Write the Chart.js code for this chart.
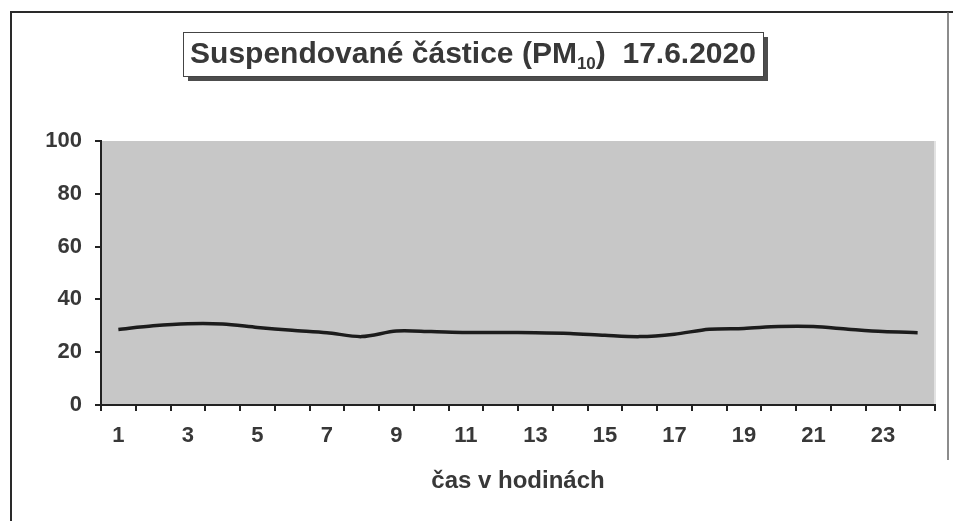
<!DOCTYPE html>
<html>
<head>
  <meta charset="utf-8">
  <title>PM10 17.6.2020</title>
  <script src="https://cdn.jsdelivr.net/npm/chart.js@4.4.1/dist/chart.umd.min.js"></script>
  <style>
    html, body { margin: 0; padding: 0; background: #fff; }
    #wrap { width: 953px; height: 521px; position: relative; }
  </style>
</head>
<body>
<div id="wrap"><canvas id="chart" width="953" height="521"></canvas></div>
<script>
  // hodiny 1..24
  var hours = ['1','2','3','4','5','6','7','8','9','10','11','12','13','14','15','16','17','18','19','20','21','22','23','24'];
  // koncentrace PM10
  var pm10 = [28.6, 30.0, 30.8, 30.7, 29.4, 28.3, 27.4, 25.9, 28.0, 27.8, 27.5, 27.5, 27.4, 27.1, 26.4, 25.9, 26.8, 28.7, 29.0, 29.7, 29.7, 28.7, 27.8, 27.4];
  var yTicks = [0, 20, 40, 60, 80, 100];
  var titleMain = 'Suspendované částice (PM';
  var titleSub = '10';
  var titleEnd = ')  17.6.2020';
  var xTitle = 'čas v hodinách';

  var ink = '#383838';
  var fontName = "'Liberation Sans', Arial, sans-serif";

  var decor = {
    id: 'decor',
    beforeDraw: function(chart) {
      var ctx = chart.ctx, a = chart.chartArea;
      ctx.save();
      ctx.fillStyle = '#fff';
      ctx.fillRect(0, 0, chart.width, chart.height);
      // sede pozadi grafu
      ctx.fillStyle = '#c7c7c7';
      ctx.fillRect(a.left, a.top, a.right - a.left, a.bottom - a.top);
      ctx.strokeStyle = '#e2e2e2';
      ctx.lineWidth = 2;
      ctx.beginPath();
      ctx.moveTo(a.right, a.top);
      ctx.lineTo(a.right, a.bottom);
      ctx.stroke();
      ctx.restore();
    },
    afterDraw: function(chart) {
      var ctx = chart.ctx, a = chart.chartArea;
      ctx.save();
      // ramecek okolo
      ctx.strokeStyle = '#2a2a2a';
      ctx.lineWidth = 2;
      ctx.beginPath();
      ctx.moveTo(11, 521);
      ctx.lineTo(11, 12);
      ctx.lineTo(953, 12);
      ctx.stroke();
      ctx.lineWidth = 1.5;
      ctx.strokeStyle = '#666';
      ctx.beginPath();
      ctx.moveTo(948, 12);
      ctx.lineTo(948, 460);
      ctx.stroke();

      // titulek v boxu se stinem
      var bx = 183, by = 32, bw = 580, bh = 44;
      ctx.fillStyle = '#4d4d4d';
      ctx.fillRect(bx + 5, by + 5, bw, bh);
      ctx.fillStyle = '#fff';
      ctx.fillRect(bx, by, bw, bh);
      ctx.strokeStyle = '#444';
      ctx.lineWidth = 1;
      ctx.strokeRect(bx + 0.5, by + 0.5, bw, bh);

      var big = 'bold 30px ' + fontName, small = 'bold 17px ' + fontName;
      ctx.font = big;
      var w1 = ctx.measureText(titleMain).width;
      var w3 = ctx.measureText(titleEnd).width;
      ctx.font = small;
      var w2 = ctx.measureText(titleSub).width;
      var total = w1 + w2 + w3;
      var x = bx + (bw - total) / 2, base = by + 31;
      ctx.fillStyle = ink;
      ctx.textBaseline = 'alphabetic';
      ctx.textAlign = 'left';
      ctx.font = big;
      ctx.fillText(titleMain, x, base);
      ctx.font = small;
      ctx.fillText(titleSub, x + w1, base + 6);
      ctx.font = big;
      ctx.fillText(titleEnd, x + w1 + w2, base);

      // popis osy x
      ctx.font = 'bold 24px ' + fontName;
      ctx.textAlign = 'center';
      ctx.textBaseline = 'middle';
      ctx.fillText(xTitle, (a.left + a.right) / 2, 481);
      ctx.restore();
    }
  };

  new Chart(document.getElementById('chart'), {
    type: 'line',
    data: {
      labels: hours,
      datasets: [{
        label: 'PM10',
        data: pm10,
        borderColor: '#1c1c1c',
        borderWidth: 3.5,
        pointRadius: 0,
        tension: 0.3,
        fill: false
      }]
    },
    options: {
      responsive: false,
      animation: false,
      layout: { padding: { top: 141, right: 18, left: 0, bottom: 0 } },
      plugins: { legend: { display: false }, tooltip: { enabled: false } },
      scales: {
        x: {
          offset: true,
          grid: { offset: true, drawOnChartArea: false, drawTicks: true, tickLength: 6, color: '#222', lineWidth: 2 },
          border: { display: true, color: '#222', width: 2 },
          ticks: {
            autoSkip: false,
            maxRotation: 0,
            padding: 12,
            color: ink,
            font: { family: fontName, size: 22, weight: 'bold' },
            callback: function(v, i) { return i % 2 === 0 ? hours[i] : ''; }
          },
          afterFit: function(s) { s.height = 521 - 405; }
        },
        y: {
          min: 0,
          max: 100,
          afterBuildTicks: function(s) { s.ticks = yTicks.map(function(v) { return { value: v }; }); },
          grid: { drawOnChartArea: false, drawTicks: true, tickLength: 6, color: '#222', lineWidth: 2 },
          border: { display: true, color: '#222', width: 2 },
          ticks: {
            padding: 13,
            color: ink,
            font: { family: fontName, size: 22, weight: 'bold' }
          },
          afterFit: function(s) { s.width = 101; }
        }
      }
    },
    plugins: [decor]
  });
</script>
</body>
</html>
